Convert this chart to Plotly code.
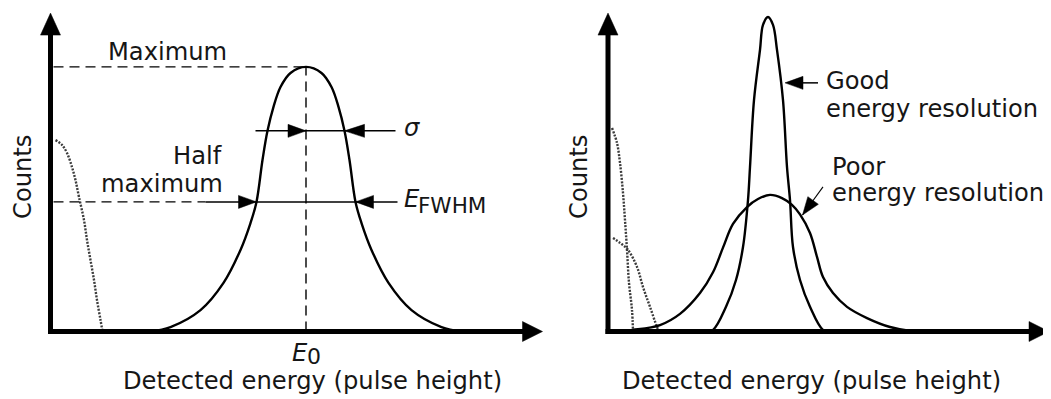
import math
import plotly.graph_objects as go

# ---------------- data (arbitrary energy / count units) ----------------
# Left panel: single photopeak
left_peak_energy = [20.0, 24.0, 30.0, 34.6, 38.0, 40.0, 41.2, 42.4, 43.4, 44.6, 46.0, 48.0,
                    51.1, 54.2, 56.2, 57.6, 58.8, 59.8, 61.0, 62.2, 64.2, 67.6, 72.2, 78.2, 82.2]
left_peak_counts = [0.0, 1.4, 6.7, 15.2, 25.5, 33.9, 40.5, 53.6, 62.7, 70.2, 76.4, 80.8,
                    82.7, 80.8, 76.4, 70.2, 62.7, 53.6, 40.5, 33.9, 25.5, 15.2, 6.7, 1.4, 0.0]
# Left panel: low-energy noise (dotted)
left_noise_energy = [1.0, 2.3, 3.3, 4.3, 5.0, 5.7, 6.7, 7.3, 8.0, 8.7, 9.3, 10.0, 10.4]
left_noise_counts = [59.8, 58.3, 55.8, 51.4, 47.3, 42.0, 34.8, 28.6, 22.3, 16.1, 9.8, 3.6, 0.0]

# Left panel markers
E0 = 51.1
peak_max = 82.7
half_max = 40.5
sigma_level = 62.7
fwhm_left = 41.2
fwhm_right = 61.0
sigma_right = 58.8

# Right panel: good resolution (narrow) peak
good_energy = [19.4, 21.0, 23.6, 25.6, 27.0, 28.0, 28.4, 29.2, 30.4, 31.0, 32.0,
               33.0, 33.8, 35.0, 35.8, 36.4, 37.0, 38.4, 40.4, 43.0, 44.6]
good_counts = [0.0, 0.5, 7.7, 16.1, 26.4, 41.1, 51.4, 72.3, 88.0, 95.8, 98.3,
               95.8, 88.0, 72.3, 51.4, 41.1, 26.4, 16.1, 7.7, 0.5, 0.0]
# Right panel: poor resolution (wide) peak
poor_energy = [1.4, 5.0, 10.4, 14.4, 18.4, 21.0, 23.0, 25.0, 27.8, 30.0, 32.4,
               34.8, 36.8, 38.4, 40.4, 41.8, 43.0, 45.0, 47.8, 51.8, 56.4, 61.0]
poor_counts = [0.0, 0.5, 2.0, 5.5, 12.0, 18.5, 26.2, 33.6, 38.9, 41.4, 42.7,
               41.7, 39.6, 36.6, 30.8, 23.3, 17.0, 12.0, 7.7, 4.2, 1.4, 0.0]
# Right panel: noise curves (dotted)
noise1_energy = [0.8, 1.8, 2.4, 3.0, 3.4, 3.8, 4.2, 4.8, 5.0]
noise1_counts = [63.6, 58.9, 52.7, 43.3, 34.8, 25.5, 15.2, 6.7, 0.0]
noise2_energy = [1.0, 2.4, 4.0, 5.8, 7.0, 8.4, 9.8, 10.2]
noise2_counts = [29.2, 27.7, 25.5, 20.2, 13.9, 7.7, 1.4, 0.0]

# annotation arrow anchors (right panel)
good_arrow_tip = (35.4, 77.7)
good_arrow_tail_x = 42.0
poor_arrow_tip = (38.9, 36.4)
poor_arrow_tail = (43.0, 45.2)

# axis extents
left_x_end = 98.4
right_x_end = 88.2
y_end = 99.5

# ---------------- layout geometry ----------------
# The page body has an 8px margin, so the figure is placed at (8, 8) of the window.
OFF = 8
PAGE_W, PAGE_H = 1051, 399
W, H = PAGE_W - OFF, PAGE_H - OFF
SX, SY = 5.0, 3.2            # pixels per data unit
Y_TOP_PX, Y_BOT_PX, Y0_PX = 9.0, 345.0, 331.5     # page pixels
y_range = [(Y0_PX - Y_BOT_PX) / SY, (Y0_PX - Y_TOP_PX) / SY]
y_domain = [1 - (Y_BOT_PX - OFF) / H, 1 - (Y_TOP_PX - OFF) / H]
L_PX = (30.5, 550.5)
R_PX = (590.0, 1051.0)
L_X0, R_X0 = 50.5, 608.0

FONT = "DejaVu Sans"
FS = 24.2
TXT = "#161616"
DOT_COLOR = "#3c3c3c"

fig = go.Figure()
LEFT = ("x", "y")
RIGHT = ("x2", "y2")


def line(ax, xs, ys, width=2.4, color="black", dash=None, shape="linear"):
    fig.add_trace(go.Scatter(
        x=xs, y=ys, xaxis=ax[0], yaxis=ax[1], mode="lines",
        line=dict(width=width, color=color, dash=dash, shape=shape,
                  smoothing=1.0 if shape == "spline" else None),
        hoverinfo="skip", showlegend=False))


def head(ax, tip_x, tip_y, dx, dy, length=18.0, half=6.5):
    n = math.hypot(dx, dy)
    ux, uy = dx / n, dy / n
    pts = [(0.0, 0.0),
           (-ux * length - uy * half, -uy * length + ux * half),
           (-ux * length + uy * half, -uy * length - ux * half),
           (0.0, 0.0)]
    xs = [tip_x + ox / SX for ox, oy in pts]
    ys = [tip_y - oy / SY for ox, oy in pts]
    fig.add_trace(go.Scatter(
        x=xs, y=ys, xaxis=ax[0], yaxis=ax[1], mode="lines", fill="toself",
        fillcolor="black", line=dict(width=0.5, color="black"),
        hoverinfo="skip", showlegend=False))


def text(px, py, s, xanchor="center", size=FS, angle=0):
    fig.add_annotation(
        x=(px - OFF) / W, y=1 - (py - OFF) / H, xref="paper", yref="paper", text=s,
        showarrow=False, xanchor=xanchor, yanchor="middle", textangle=angle,
        borderpad=0, borderwidth=0,
        font=dict(family=FONT, size=size, color=TXT))


# ---------------- left panel ----------------
line(LEFT, left_noise_energy, left_noise_counts, width=2.4, color=DOT_COLOR,
     dash="2px,1.4px", shape="spline")
line(LEFT, left_peak_energy, left_peak_counts, width=2.4, shape="spline")
# maximum dashed line + vertical E0 line
line(LEFT, [0.6, E0], [peak_max, peak_max], width=1.4, dash="10px,6px")
line(LEFT, [E0, E0], [0, peak_max], width=1.4, dash="10px,6px")
# half maximum: dashed then solid
line(LEFT, [0.6, 31.0], [half_max, half_max], width=1.4, dash="10px,6px")
line(LEFT, [31.0, 69.4], [half_max, half_max], width=1.5)
head(LEFT, fwhm_left, half_max, 1, 0)
head(LEFT, fwhm_right, half_max, -1, 0)
# sigma line
line(LEFT, [41.0, 69.0], [sigma_level, sigma_level], width=1.5)
head(LEFT, E0, sigma_level, 1, 0)
head(LEFT, sigma_right, sigma_level, -1, 0, length=20)
# axes
line(LEFT, [-0.5, left_x_end - 3.0], [0, 0], width=5)
line(LEFT, [0, 0], [-0.78, y_end - 3.0], width=5)
head(LEFT, left_x_end, 0, 1, 0, length=20, half=10)
head(LEFT, 0, y_end, 0, -1, length=22, half=10)

# ---------------- right panel ----------------
line(RIGHT, noise1_energy, noise1_counts, width=2.4, color=DOT_COLOR,
     dash="2px,1.4px", shape="spline")
line(RIGHT, noise2_energy, noise2_counts, width=2.4, color=DOT_COLOR,
     dash="2px,1.4px", shape="spline")
line(RIGHT, poor_energy, poor_counts, width=2.4, shape="spline")
line(RIGHT, good_energy, good_counts, width=2.4, shape="spline")
# good arrow
line(RIGHT, [good_arrow_tip[0] + 2, good_arrow_tail_x], [good_arrow_tip[1]] * 2, width=1.5)
head(RIGHT, good_arrow_tip[0], good_arrow_tip[1], -1, 0)
# poor arrow
line(RIGHT, [poor_arrow_tail[0], poor_arrow_tip[0]], [poor_arrow_tail[1], poor_arrow_tip[1]],
     width=1.1)
pdx = (poor_arrow_tip[0] - poor_arrow_tail[0]) * SX
pdy = -(poor_arrow_tip[1] - poor_arrow_tail[1]) * SY
head(RIGHT, poor_arrow_tip[0], poor_arrow_tip[1], pdx, pdy)
# axes
line(RIGHT, [-0.5, right_x_end - 3.0], [0, 0], width=5)
line(RIGHT, [0, 0], [-0.78, y_end - 3.0], width=5)
head(RIGHT, right_x_end, 0, 1, 0, length=20, half=10)
head(RIGHT, 0, y_end, 0, -1, length=22, half=10)

# ---------------- text ----------------
text(167, 52, "Maximum")
text(222, 156, "Half", xanchor="right")
text(223, 184, "maximum", xanchor="right")
text(404, 128, "<i>σ</i>", xanchor="left")
text(404, 199, "<i>E</i>", xanchor="left")
text(418, 205, "FWHM", xanchor="left", size=21.5)
text(292, 353, "<i>E</i>", xanchor="left")
text(307, 356, "0", xanchor="left", size=22)
text(312.5, 381, "Detected energy (pulse height)")
text(23, 177, "Counts", angle=-90)

text(826, 81, "Good", xanchor="left")
text(826, 109, "energy resolution", xanchor="left")
text(832, 166.5, "Poor", xanchor="left")
text(832, 193, "energy resolution", xanchor="left")
text(811, 381, "Detected energy (pulse height)")
text(579, 177, "Counts", angle=-90)

fig.update_layout(
    width=W, height=H, margin=dict(l=0, r=0, t=0, b=0),
    paper_bgcolor="white", plot_bgcolor="white", showlegend=False,
    xaxis=dict(domain=[(L_PX[0] - OFF) / W, (L_PX[1] - OFF) / W],
               range=[(L_PX[0] - L_X0) / SX, (L_PX[1] - L_X0) / SX],
               visible=False, anchor="y"),
    yaxis=dict(domain=y_domain, range=y_range, visible=False, anchor="x"),
    xaxis2=dict(domain=[(R_PX[0] - OFF) / W, min(1.0, (R_PX[1] - OFF) / W)],
                range=[(R_PX[0] - R_X0) / SX, (R_PX[1] - R_X0) / SX],
                visible=False, anchor="y2"),
    yaxis2=dict(domain=y_domain, range=y_range, visible=False, anchor="x2"),
)

fig.write_html("out.html")
